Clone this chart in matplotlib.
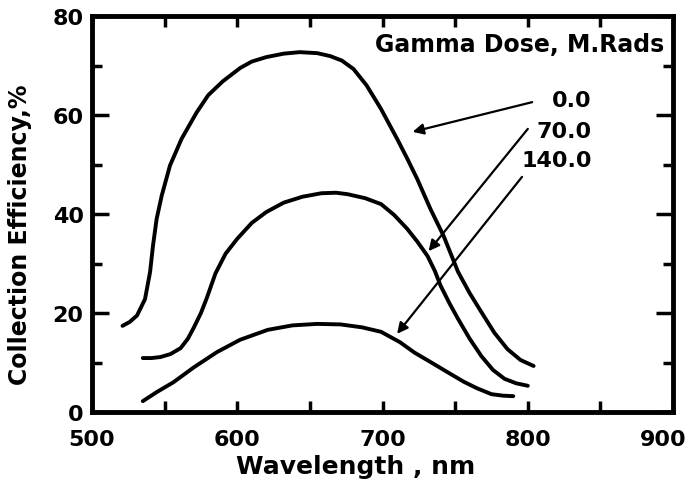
import numpy as np
import matplotlib.pyplot as plt
import matplotlib.transforms as mtransforms
from matplotlib.ticker import MultipleLocator

# wavelength (nm) vs collection efficiency (%)
wl_0 = [521, 526, 531, 536.5, 540, 542, 544.5, 548, 553.7, 561.7, 572, 580, 590, 602, 610, 620, 632,
        643, 655, 664, 672, 680, 689, 699, 710, 717, 724, 733, 742, 752, 760, 768, 777, 786, 795, 804]
eff_0 = [17.4, 18.2, 19.5, 22.8, 28.3, 33.6, 39, 43.7, 49.8, 55.2, 60.5, 64, 66.8, 69.5, 70.8, 71.7, 72.4,
         72.7, 72.5, 71.9, 71, 69.3, 66, 61.2, 55.2, 51.2, 47, 41, 35.6, 28.3, 24, 20.2, 16, 12.7, 10.5, 9.3]

wl_70 = [535, 541, 547, 554, 561, 566, 570, 575, 579, 585, 592, 600, 610, 620, 632, 645, 658, 668, 676, 688,
         699, 708, 717, 724, 731, 736, 740, 746, 752, 760, 768, 776, 784, 792, 800]
eff_70 = [10.9, 10.9, 11.1, 11.7, 12.9, 14.8, 17, 20, 23, 28, 32, 35, 38.2, 40.4, 42.3, 43.5, 44.2, 44.3, 44, 43.2,
          42, 39.8, 37, 34.4, 31.5, 28.5, 25.5, 22, 18.8, 14.8, 11.3, 8.5, 6.7, 5.8, 5.3]

wl_140 = [535, 545, 556, 570, 586, 602, 621, 638, 655, 671, 686, 699, 712, 722, 733, 745, 756, 765, 775, 783, 790]
eff_140 = [2.2, 4.1, 6, 9, 12.1, 14.6, 16.6, 17.5, 17.8, 17.7, 17.1, 16.2, 14.1, 12, 10.1, 8, 6.1, 4.8, 3.6, 3.3, 3.2]

x_ticks = [500, 600, 700, 800, 900]
y_ticks = [0, 20, 40, 60, 80]

dose_labels = ['0.0', '70.0', '140.0']
label_pos = [(844, 63), (844, 56.8), (844, 50.9)]
arrow_from = [(803, 62.6), (800, 57.2), (796, 47.5)]
arrow_to = [(720.7, 56.6), (731.7, 32.5), (710, 15.8)]

fig = plt.figure(figsize=(6.91, 4.89), dpi=100)
ax = fig.add_axes([0.1331, 0.1554, 0.841, 0.8098])

for x, y in [(wl_0, eff_0), (wl_70, eff_70), (wl_140, eff_140)]:
    ax.plot(x, y, color='k', lw=2.8, solid_capstyle='round', solid_joinstyle='round')

for lab, pos, a, b in zip(dose_labels, label_pos, arrow_from, arrow_to):
    ax.text(pos[0], pos[1], lab, ha='right', va='center', fontsize=16, fontweight='bold')
    ax.annotate('', xy=b, xytext=a,
                arrowprops=dict(arrowstyle='-|>', lw=1.6, color='k', mutation_scale=16, shrinkA=0, shrinkB=0))

ax.text(894, 74.3, 'Gamma Dose, M.Rads', ha='right', va='center', fontsize=17, fontweight='bold')

ax.set_xlim(500, 900)
ax.set_ylim(0, 80)
ax.set_xticks(x_ticks)
ax.set_yticks(y_ticks)
ax.xaxis.set_minor_locator(MultipleLocator(50))
ax.yaxis.set_minor_locator(MultipleLocator(10))
ax.tick_params(which='both', direction='in', top=True, right=True, width=2.5)
ax.tick_params(axis='x', which='major', length=8, pad=12, labelsize=16)
ax.tick_params(axis='x', which='minor', length=8)
ax.tick_params(axis='y', which='major', length=12, pad=6, labelsize=16)
ax.tick_params(axis='y', which='minor', length=7)
for lab in ax.get_xticklabels() + ax.get_yticklabels():
    lab.set_fontweight('bold')
for s in ax.spines.values():
    s.set_linewidth(3.5)

# 900 sits a bit inside so it isn't clipped
last = ax.get_xticklabels()[-1]
last.set_transform(last.get_transform() + mtransforms.ScaledTranslation(-10 / 100, 0, fig.dpi_scale_trans))

ax.set_xlabel('Wavelength , nm', fontsize=18, fontweight='bold')
ax.xaxis.set_label_coords(0.453, -0.105)
ax.set_ylabel('Collection Efficiency,%', fontsize=17, fontweight='bold')
ax.yaxis.set_label_coords(-0.103, 0.45)

fig.savefig('out.png', dpi=100)
